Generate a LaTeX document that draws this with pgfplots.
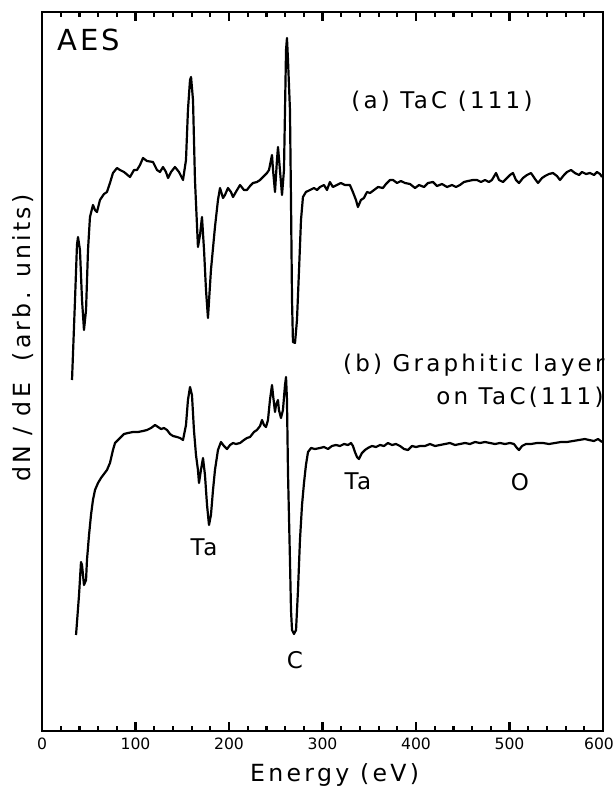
\documentclass[border=0pt]{standalone}
\usepackage{pgfplots}
\pgfplotsset{compat=1.18}
\usepackage{fontspec}
\setmainfont{DejaVu Sans}
\newfontfamily\pf[LetterSpace=10]{DejaVu Sans}
\newfontfamily\pfw[LetterSpace=14]{DejaVu Sans}
\begin{document}
\begin{tikzpicture}
\path[use as bounding box] (0,0) rectangle (308pt,394.5pt);
\begin{axis}[
  at={(21pt,29pt)}, anchor=south west,
  scale only axis, width=280.5pt, height=359.5pt,
  xmin=0, xmax=600, ymin=58, ymax=777,
  xtick={0,100,...,600},
  xticklabels={0,100,200,300,400,500,\kern-4pt600},
  ytick=\empty,
  axis line style={line width=1.1pt},
  ticklabel style={font=\fontsize{7.8}{9}\selectfont},
  /pgf/number format/assume math mode=true,
  clip=false,
]
% tick marks drawn as short data segments (inside, bottom and top)
\pgfplotsinvokeforeach{100,200,300,400,500}{
  \addplot[black, line width=1.1pt, line cap=butt, mark=none] coordinates {(#1,58) (#1,67)};
  \addplot[black, line width=1.1pt, line cap=butt, mark=none] coordinates {(#1,777) (#1,768)};
}
\pgfplotsinvokeforeach{20,40,60,80,120,140,160,180,220,240,260,280,320,340,360,380,420,440,460,480,520,540,560,580}{
  \addplot[black, line width=1.1pt, line cap=butt, mark=none] coordinates {(#1,58) (#1,63)};
  \addplot[black, line width=1.1pt, line cap=butt, mark=none] coordinates {(#1,777) (#1,772)};
}
\addplot[black, line width=1.1pt, line join=round] coordinates {
(32.1,409)(35.3,489)(37.4,544)(38.5,552)(40.6,539)(42.8,489)(44.9,459)(47.1,479)(49.2,539)(51.3,572)
(54.5,584)(56.7,579)(58.8,577)(62.0,589)(66.3,595)(69.5,597)(72.7,606)(75.9,616)(80.2,621)(83.4,619)
(87.7,617)(94.1,612)(98.4,619)(101.6,619)(104.8,624)(108.0,631)(112.3,628)(118.7,627)(123.0,619)(126.2,617)
(129.4,622)(132.6,617)(134.8,611)(138.0,617)(142.2,622)(146.5,617)(150.8,609)(154.0,629)(156.1,679)(158.3,709)
(159.4,712)(161.5,689)(163.6,609)(166.8,542)(169.0,554)(171.1,572)(173.3,539)(175.4,499)(177.5,471)(180.7,519)
(185.0,562)(188.2,589)(190.4,601)(193.6,591)(195.7,594)(198.9,601)(202.1,597)(204.3,592)(208.6,599)(211.8,604)
(216.0,599)(219.2,599)(222.5,603)(225.7,606)(229.9,607)(233.2,609)(236.4,612)(240.6,616)(242.8,619)(244.9,629)
(246.0,634)(247.1,619)(249.2,597)(251.3,629)(252.4,642)(254.5,619)(256.7,594)(258.8,619)(259.9,679)(261.0,739)
(262.0,751)(263.1,729)(265.2,679)(266.3,589)(267.4,489)(268.4,447)(270.6,446)(272.7,469)(274.9,519)(277.0,569)
(279.1,592)(282.3,597)(286.6,599)(290.9,601)(294.1,599)(297.3,602)(301.6,604)(304.8,599)(307.9,607)(311.1,602)
(315.4,604)(319.7,606)(324.0,604)(329.3,604)(332.5,597)(335.8,589)(337.9,582)(341.1,589)(344.3,591)(347.6,597)
(350.8,596)(355.1,599)(359.4,602)(364.7,601)(367.9,605)(372.2,609)(375.4,609)(379.7,606)(383.9,608)(388.2,606)
(393.6,605)(399.0,601)(403.2,604)(408.6,602)(412.8,606)(418.2,607)(422.5,603)(427.8,605)(433.2,602)(438.5,604)
(442.8,602)(447.0,604)(451.3,607)(455.6,608)(460.9,609)(465.2,609)(469.5,607)(473.8,609)(478.0,607)(481.2,609)
(485.6,616)(488.8,609)(493.0,607)(497.3,611)(500.5,614)(503.7,616)(506.9,609)(510.2,606)(514.4,611)(518.7,614)
(523.0,616)(527.3,610)(530.5,606)(534.8,611)(538.0,613)(542.2,615)(546.5,616)(550.8,613)(554.0,609)(558.3,614)
(561.5,617)(565.8,619)(570.0,616)(574.3,614)(577.5,617)(581.8,615)(586.1,616)(590.4,614)(593.6,617)(596.8,615)
(599.0,612)
};
\addplot[black, line width=1.1pt, line join=round] coordinates {
(36.4,154)(39.6,194)(41.7,227)(42.8,224)(44.9,204)(47.1,209)(48.1,229)(50.3,254)(52.4,274)(54.5,289)
(56.7,299)(59.9,306)(63.1,311)(66.3,315)(69.5,319)(72.7,326)(75.9,339)(78.1,346)(81.3,349)(84.5,352)
(87.7,355)(92.0,356)(97.3,357)(102.7,357)(108.0,358)(112.3,359)(116.6,361)(120.9,364)(124.1,362)(127.3,360)
(130.5,361)(133.7,359)(136.9,355)(140.1,353)(144.4,352)(147.6,351)(150.8,349)(154.0,364)(156.1,389)(158.3,402)
(160.4,394)(162.5,359)(164.7,334)(166.8,319)(167.9,306)(170.0,319)(172.2,331)(174.3,314)(176.5,284)(178.6,264)
(180.7,274)(182.9,299)(185.0,319)(188.2,339)(191.4,347)(194.6,343)(197.9,340)(201.1,344)(204.3,346)(207.5,345)
(211.8,346)(216.0,349)(219.2,351)(222.5,352)(226.7,357)(229.9,359)(233.2,363)(235.3,369)(237.4,364)(239.6,362)
(241.7,369)(243.8,389)(246.0,404)(247.1,394)(249.2,377)(250.3,384)(252.4,389)(253.4,379)(255.6,371)(257.7,379)
(259.9,404)(261.0,412)(262.0,389)(263.1,316)(265.2,229)(266.3,179)(267.4,159)(269.5,155)(271.7,159)(273.8,199)
(275.9,249)(278.1,284)(280.2,306)(282.3,324)(284.5,337)(287.7,341)(291.9,340)(297.3,341)(301.6,342)(305.9,340)
(310.1,343)(314.4,344)(318.7,343)(323.0,345)(327.3,344)(330.5,346)(332.6,343)(334.7,337)(336.9,332)(339.0,330)
(342.2,336)(345.4,339)(348.6,341)(352.9,343)(357.2,342)(361.5,344)(365.8,343)(370.0,346)(374.3,344)(378.6,345)
(382.9,343)(387.2,340)(391.4,339)(395.7,343)(400.0,342)(404.3,343)(409.6,343)(415.0,345)(420.3,343)(425.7,344)
(431.0,345)(436.4,346)(441.7,344)(447.1,345)(452.4,346)(457.8,345)(463.1,347)(468.4,346)(473.8,347)(479.1,346)
(484.5,345)(489.8,346)(495.2,345)(500.5,346)(504.8,345)(508.0,341)(510.2,339)(513.4,343)(517.6,345)(523.0,345)
(529.4,346)(535.8,346)(542.2,345)(548.7,346)(555.1,347)(561.5,347)(567.9,348)(574.3,349)(580.7,350)(585.0,349)
(590.4,348)(594.7,350)(599.0,347)
};
\node[font=\pf\fontsize{14.5}{16}\selectfont] at (axis cs:50.3,749) {AES};
\node[font=\pfw\fontsize{11.5}{13}\selectfont] at (axis cs:427.8,688) {(a) TaC (111)};
\node[font=\pfw\fontsize{11.5}{13}\selectfont, anchor=east, inner sep=0pt] at (axis cs:602,424) {(b) Graphitic layer};
\node[font=\pfw\fontsize{11.5}{13}\selectfont, anchor=east, inner sep=0pt] at (axis cs:601,392) {on TaC(111)};
\node[font=\pf\fontsize{11.5}{13}\selectfont] at (axis cs:173.3,242) {Ta};
\node[font=\pf\fontsize{11.5}{13}\selectfont] at (axis cs:270.6,129) {C};
\node[font=\pf\fontsize{11.5}{13}\selectfont] at (axis cs:337.9,308) {Ta};
\node[font=\pf\fontsize{11.5}{13}\selectfont] at (axis cs:511.2,307) {O};
\node[font=\pfw\fontsize{11.8}{14}\selectfont, inner sep=0pt] at (axis cs:313,14) {Energy (eV)};
\node[font=\pfw\fontsize{11.8}{14}\selectfont, rotate=90, inner sep=0pt] at (axis cs:-20.3,451) {dN / dE \ (arb. units)};
\end{axis}
\end{tikzpicture}
\end{document}
